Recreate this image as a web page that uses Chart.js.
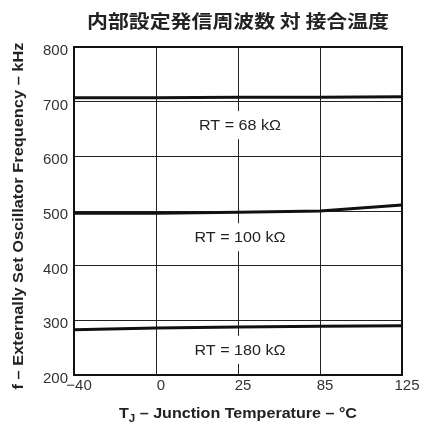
<!DOCTYPE html>
<html>
<head>
<meta charset="utf-8">
<script src="https://cdn.jsdelivr.net/npm/chart.js@4/dist/chart.umd.min.js"></script>
<style>
html,body{margin:0;padding:0;background:#fff;}
#wrap{width:421px;height:425px;}
</style>
</head>
<body>
<div id="wrap"><canvas id="c" width="421" height="425"></canvas></div>
<script>
const categories = ['\u221240', '0', '25', '85', '125'];
const rt68 = [707, 707, 708, 708, 709];
const rt100 = [496, 496, 497.5, 500, 511];
const rt180 = [283, 286, 288, 289, 290];
const curveLabels = ['RT = 68 k\u03A9', 'RT = 100 k\u03A9', 'RT = 180 k\u03A9'];
const curveLabelValues = [657, 452, 246];
const curveLabelCategory = 2;
const chartTitle = '内部設定発信周波数 対 接合温度';
const yTitle = 'f \u2013 Externally Set Oscillator Frequency \u2013 kHz';
const xTitleMain = 'T';
const xTitleSub = 'J';
const xTitleRest = ' \u2013 Junction Temperature \u2013 \u00B0C';
const yMin = 200, yMax = 800, yStep = 100;

const SANS = "'Liberation Sans', Arial, Helvetica, sans-serif";

// draw text stretched horizontally (in its own direction) by factor sx
function fillStretched(ctx, text, x, y, sx) {
  ctx.save();
  ctx.translate(x, y);
  ctx.scale(sx, 1);
  ctx.fillText(text, 0, 0);
  ctx.restore();
}

const decor = {
  id: 'decor',
  beforeDatasetsDraw(chart) {
    const {ctx, chartArea: a} = chart;
    ctx.save();
    ctx.strokeStyle = '#111';
    ctx.lineWidth = 2;
    ctx.strokeRect(a.left, a.top, a.right - a.left, a.bottom - a.top);
    ctx.restore();
  },
  afterDatasetsDraw(chart) {
    const {ctx, chartArea: a, scales} = chart;
    ctx.save();
    // curve labels
    ctx.font = '14px ' + SANS;
    ctx.textAlign = 'center';
    ctx.textBaseline = 'middle';
    const SX = 1.15;
    curveLabels.forEach((t, i) => {
      const x = scales.x.getPixelForValue(curveLabelCategory) + 2;
      const y = scales.y.getPixelForValue(curveLabelValues[i]);
      const w = ctx.measureText(t).width * SX;
      ctx.fillStyle = '#fff';
      ctx.fillRect(x - w / 2 - 3, y - 14, w + 6, 28);
      ctx.fillStyle = '#222';
      fillStretched(ctx, t, x, y + 1, SX);
    });
    // main title
    const cx = (a.left + a.right) / 2;
    ctx.fillStyle = '#222';
    ctx.font = "bold 18px 'Noto Sans CJK JP', sans-serif";
    fillStretched(ctx, chartTitle, cx, 21, 1.16);
    // y title
    ctx.save();
    ctx.translate(23, 216);
    ctx.rotate(-Math.PI / 2);
    ctx.font = 'bold 14px ' + SANS;
    ctx.textBaseline = 'alphabetic';
    fillStretched(ctx, yTitle, 0, 0, 1.17);
    ctx.restore();
    // x title with subscript
    const XS = 1.15;
    const fMain = 'bold 14px ' + SANS;
    const fSub = 'bold 10px ' + SANS;
    ctx.font = fMain;
    const w1 = ctx.measureText(xTitleMain).width * XS;
    const w3 = ctx.measureText(xTitleRest).width * XS;
    ctx.font = fSub;
    const w2 = ctx.measureText(xTitleSub).width * XS;
    let x0 = cx - (w1 + w2 + w3) / 2;
    const yb = 418;
    ctx.textAlign = 'left';
    ctx.textBaseline = 'alphabetic';
    ctx.font = fMain;
    fillStretched(ctx, xTitleMain, x0, yb, XS);
    x0 += w1;
    ctx.font = fSub;
    fillStretched(ctx, xTitleSub, x0, yb + 4, XS);
    x0 += w2;
    ctx.font = fMain;
    fillStretched(ctx, xTitleRest, x0, yb, XS);
    ctx.restore();
  }
};

const lineDs = (label, data) => ({
  label, data,
  borderColor: '#111', borderWidth: 3,
  pointRadius: 0, pointHoverRadius: 0,
  tension: 0, fill: false
});

new Chart(document.getElementById('c'), {
  type: 'line',
  data: {
    labels: categories,
    datasets: [
      lineDs(curveLabels[0], rt68),
      lineDs(curveLabels[1], rt100),
      lineDs(curveLabels[2], rt180)
    ]
  },
  options: {
    responsive: false,
    animation: false,
    devicePixelRatio: 1,
    layout: { padding: { top: 47, right: 19, left: 0, bottom: 0 } },
    plugins: { legend: { display: false }, title: { display: false }, tooltip: { enabled: false } },
    scales: {
      x: {
        type: 'category',
        offset: false,
        grid: { color: '#222', lineWidth: 1, drawTicks: false },
        border: { display: false },
        ticks: { color: '#333', font: { family: SANS, size: 15 }, padding: 2, labelOffset: 5, maxRotation: 0, autoSkip: false },
        afterFit(s) { s.height = 50; }
      },
      y: {
        min: yMin, max: yMax,
        grid: { color: '#222', lineWidth: 1, drawTicks: false },
        border: { display: false },
        ticks: { stepSize: yStep, color: '#333', font: { family: SANS, size: 15 }, padding: 6, labelOffset: 4 },
        afterFit(s) { s.width = 74; }
      }
    }
  },
  plugins: [decor]
});
</script>
</body>
</html>
